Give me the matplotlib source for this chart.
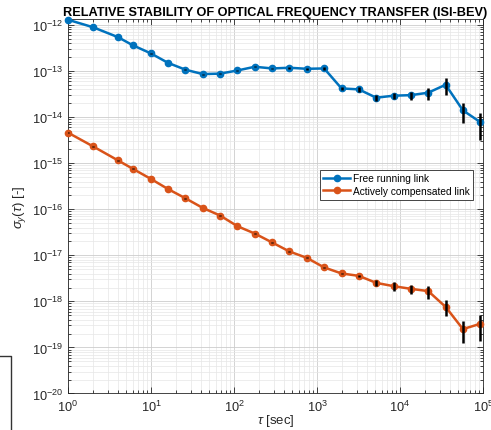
import numpy as np
import matplotlib
matplotlib.use("Agg")
import matplotlib.pyplot as plt
from matplotlib.lines import Line2D

# --- Data ---
tau = [1, 2, 4, 6, 10, 16, 26, 42, 68, 110, 178, 288, 466, 754, 1220,
       1974, 3194, 5168, 8362, 13530, 21892, 35422, 57314, 92736]

free_adev = [1.3e-12, 8.95e-13, 5.45e-13, 3.65e-13, 2.41e-13, 1.51e-13, 1.07e-13,
             8.6e-14, 8.8e-14, 1.03e-13, 1.24e-13, 1.14e-13, 1.18e-13, 1.12e-13,
             1.14e-13, 4.2e-14, 4.0e-14, 2.64e-14, 2.92e-14, 3.0e-14, 3.39e-14,
             5.05e-14, 1.4e-14, 7.8e-15]
free_err = [1e-14, 8e-15, 5e-15, 4e-15, 3e-15, 2e-15, 2e-15, 2e-15, 2e-15, 3e-15,
            4e-15, 4e-15, 5e-15, 5e-15, 6e-15, 3.2e-15, 4e-15, 4e-15, 5e-15, 6e-15,
            1.0e-14, 2.07e-14, 6.7e-15, 4.6e-15]

comp_adev = [4.6e-15, 2.32e-15, 1.15e-15, 7.6e-16, 4.54e-16, 2.75e-16, 1.73e-16,
             1.07e-16, 7.3e-17, 4.28e-17, 2.97e-17, 1.9e-17, 1.21e-17, 8.8e-18,
             5.45e-18, 4.04e-18, 3.58e-18, 2.52e-18, 2.14e-18, 1.87e-18, 1.67e-18,
             7.6e-19, 2.5e-19, 3.26e-19]
comp_err = [4e-17, 2e-17, 1e-17, 7e-18, 4e-18, 3e-18, 2e-18, 1e-18, 8e-19, 5e-19,
            4e-19, 3e-19, 2e-19, 2e-19, 1.5e-19, 1e-19, 1.3e-19, 3.8e-19, 4.3e-19,
            4.5e-19, 5.4e-19, 2.9e-19, 1.25e-19, 1.86e-19]

blue = "#0072BD"
orange = "#D95319"
axcol = "#262626"

plt.rcParams['font.family'] = ['Liberation Sans', 'DejaVu Sans']
plt.rcParams['mathtext.fontset'] = 'custom'
plt.rcParams['mathtext.rm'] = 'Liberation Sans'
plt.rcParams['mathtext.it'] = 'Liberation Sans:italic'

fig = plt.figure(figsize=(4.91, 4.31), dpi=100)
ax = fig.add_axes([0.1385, 0.0847, 0.8452, 0.8689])

ax.plot(tau, free_adev, '-o', color=blue, lw=1.8, ms=4.5,
        label='Free running link', clip_on=False, zorder=3)
ax.plot(tau, comp_adev, '-o', color=orange, lw=1.8, ms=4.5,
        label='Actively compensated link', clip_on=False, zorder=3)
ax.errorbar(tau, free_adev, yerr=free_err, fmt='none', ecolor='black',
            elinewidth=1.8, capsize=0, zorder=4)
ax.errorbar(tau, comp_adev, yerr=comp_err, fmt='none', ecolor='black',
            elinewidth=1.8, capsize=0, zorder=4)

ax.set_xscale('log')
ax.set_yscale('log')
ax.set_xlim(1, 1e5)
ax.set_ylim(1e-20, 1.35e-12)
ax.set_xticks([1, 10, 100, 1e3, 1e4, 1e5])
ax.set_yticks([10.0 ** k for k in range(-20, -11)])

ax.grid(True, which='major', color='#cccccc', lw=0.6)
ax.grid(True, which='minor', color='#e6e6e6', lw=0.5)
ax.set_axisbelow(True)
ax.tick_params(which='both', direction='in', top=True, right=True,
               colors=axcol, labelsize=9.2, width=0.6)
ax.tick_params(which='major', length=4)
ax.tick_params(which='minor', length=2)
for s in ax.spines.values():
    s.set_color(axcol)
    s.set_linewidth(0.6)

ax.set_title('RELATIVE STABILITY OF OPTICAL FREQUENCY TRANSFER (ISI-BEV)',
             fontsize=9.2, fontweight='bold', pad=3)
ax.set_xlabel(r'$\tau$ [sec]', fontsize=9.5, color=axcol, labelpad=-1)
ax.set_ylabel(r'$\sigma_y(\tau)$ [-]', fontsize=9.5, color=axcol, labelpad=3)

leg = ax.legend(loc='upper left', bbox_to_anchor=(0.607, 0.597), fontsize=7.3,
                frameon=True, fancybox=False, borderpad=0.35, labelspacing=0.25,
                handlelength=2.6, handletextpad=0.3, borderaxespad=0,
                framealpha=1)
leg.get_frame().set_edgecolor(axcol)
leg.get_frame().set_linewidth(0.6)

# cropped frame remnant at lower left of the reference image
fig.add_artist(Line2D([0, 11 / 491, 11 / 491], [1 - 357 / 431, 1 - 357 / 431, 0],
                      transform=fig.transFigure, color='#333333', lw=1))

fig.savefig('out.png', dpi=100)
